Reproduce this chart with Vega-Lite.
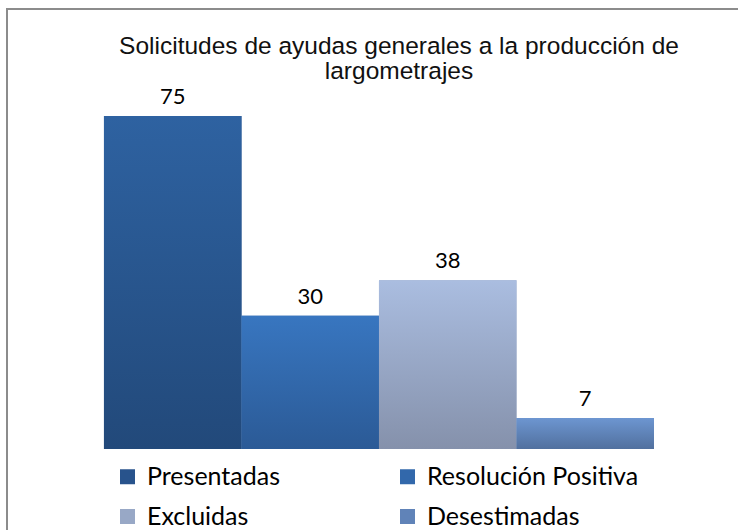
{
  "$schema": "https://vega.github.io/schema/vega-lite/v6.json",
  "width": 734,
  "height": 524,
  "autosize": {"type": "none"},
  "padding": {"left": 7, "top": 9, "right": -3, "bottom": -3},
  "background": "white",
  "config": {"view": {"stroke": "#8c8c8c", "strokeWidth": 2}},
  "title": {
    "text": ["Solicitudes de ayudas generales  a la producción de", "largometrajes"],
    "font": "Liberation Sans",
    "fontSize": 24.5,
    "fontWeight": "normal",
    "color": "#111111",
    "orient": "top",
    "anchor": "middle",
    "frame": "group",
    "offset": -75,
    "dx": 25,
    "lineHeight": 25
  },
  "data": {
    "values": [
      {"categoria": "Presentadas", "solicitudes": 75},
      {"categoria": "Resolución Positiva", "solicitudes": 30},
      {"categoria": "Excluidas", "solicitudes": 38},
      {"categoria": "Desestimadas", "solicitudes": 7}
    ]
  },
  "encoding": {
    "x": {
      "field": "categoria",
      "type": "nominal",
      "sort": null,
      "axis": null,
      "scale": {"paddingInner": 0, "paddingOuter": 0.669, "align": 0.527}
    },
    "y": {
      "field": "solicitudes",
      "type": "quantitative",
      "axis": null,
      "scale": {"domain": [-18.92, 99.1], "nice": false, "zero": false}
    }
  },
  "layer": [
    {
      "mark": {"type": "bar"},
      "encoding": {
        "fill": {
          "field": "categoria",
          "type": "nominal",
          "sort": null,
          "scale": {
            "domain": ["Presentadas", "Resolución Positiva", "Excluidas", "Desestimadas"],
            "range": ["#28538c", "#3268ab", "#98a8c6", "#6083b8"]
          },
          "legend": {
            "title": null,
            "orient": "none",
            "direction": "horizontal",
            "legendX": 108,
            "legendY": 455,
            "columns": 2,
            "gridAlign": "all",
            "columnPadding": 36,
            "rowPadding": 14,
            "symbolType": "square",
            "symbolSize": 225,
            "symbolStrokeWidth": 0,
            "labelFont": "Lato",
            "labelFontSize": 25,
            "labelColor": "#000000",
            "labelOffset": 7,
            "labelLimit": 400
          }
        }
      }
    },
    {
      "mark": {"type": "bar"},
      "encoding": {
        "fill": {
          "condition": [
            {"test": "datum.categoria === 'Presentadas'", "value": {"gradient": "linear", "x1": 0, "y1": 0, "x2": 0, "y2": 1, "stops": [{"offset": 0, "color": "#2e62a1"}, {"offset": 1, "color": "#22497a"}]}},
            {"test": "datum.categoria === 'Resolución Positiva'", "value": {"gradient": "linear", "x1": 0, "y1": 0, "x2": 0, "y2": 1, "stops": [{"offset": 0, "color": "#3876c0"}, {"offset": 1, "color": "#2b5a96"}]}},
            {"test": "datum.categoria === 'Excluidas'", "value": {"gradient": "linear", "x1": 0, "y1": 0, "x2": 0, "y2": 1, "stops": [{"offset": 0, "color": "#aabde0"}, {"offset": 1, "color": "#8591ab"}]}}
          ],
          "value": {"gradient": "linear", "x1": 0, "y1": 0, "x2": 0, "y2": 1, "stops": [{"offset": 0, "color": "#6d96d1"}, {"offset": 1, "color": "#51709e"}]}
        }
      }
    },
    {
      "mark": {"type": "text", "font": "Lato", "fontSize": 22, "color": "#000000", "baseline": "alphabetic", "dy": -12},
      "encoding": {"text": {"field": "solicitudes", "type": "quantitative"}}
    }
  ]
}
